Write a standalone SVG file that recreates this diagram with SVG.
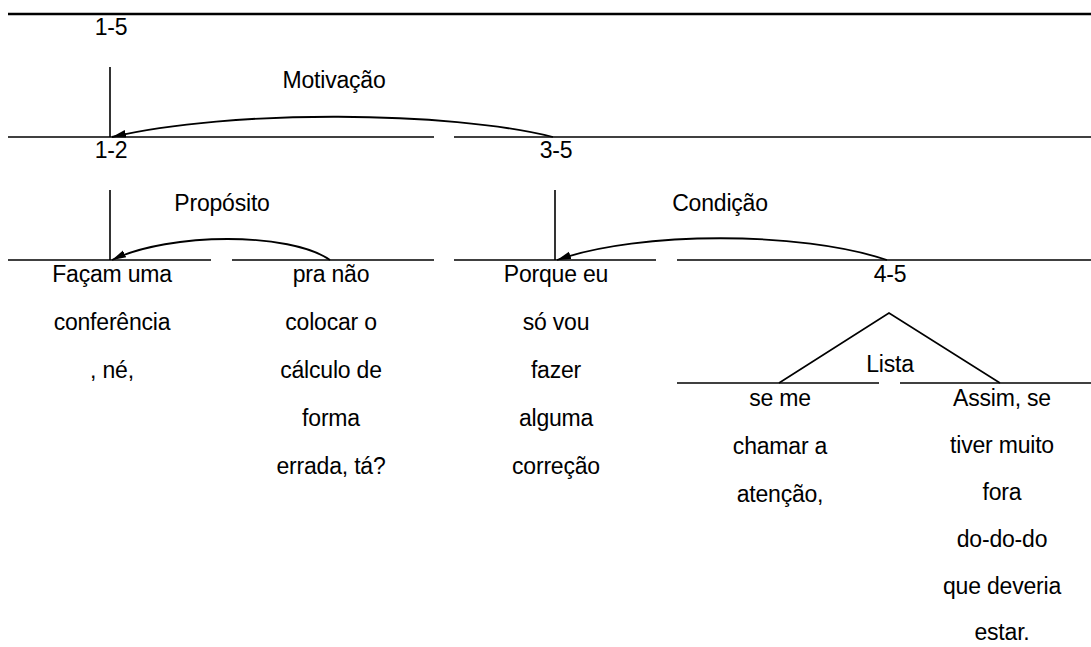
<svg xmlns="http://www.w3.org/2000/svg" width="1091" height="647" viewBox="0 0 1091 647">
  <style>
    .t { font-family: "Liberation Sans", Arial, sans-serif; font-size: 23px; fill: #000; text-anchor: middle; letter-spacing: -0.2px; }
    .ln { stroke: #000; stroke-width: 1.6; fill: none; }
    .top { stroke: #000; stroke-width: 2.6; fill: none; }
    .arc { stroke: #000; stroke-width: 1.8; fill: none; marker-end: url(#ah); }
  </style>
  <defs>
    <marker id="ah" markerWidth="16" markerHeight="10" refX="14" refY="5" orient="auto" markerUnits="userSpaceOnUse">
      <path d="M0,1.2 L14,5 L0,8.8 Z" fill="#000"/>
    </marker>
  </defs>
  <rect width="1091" height="647" fill="#fff"/>

  <g id="node-1-5">
    <line class="top" x1="8" y1="14" x2="1091" y2="14"/>
    <text class="t" x="111" y="35">1-5</text>
  </g>

  <g id="node-1-2">
    <line class="ln" x1="8" y1="137" x2="434" y2="137"/>
    <text class="t" x="111" y="158">1-2</text>
  </g>

  <g id="node-3-5">
    <line class="ln" x1="454" y1="137" x2="1091" y2="137"/>
    <text class="t" x="556" y="158">3-5</text>
  </g>

  <g id="node-1">
    <line class="ln" x1="8" y1="260" x2="211" y2="260"/>
    <text class="t" x="112" y="282">Façam uma</text>
    <text class="t" x="112" y="330">conferência</text>
    <text class="t" x="112" y="378">, né,</text>
  </g>

  <g id="node-2">
    <line class="ln" x1="232" y1="260" x2="434" y2="260"/>
    <text class="t" x="331" y="282">pra não</text>
    <text class="t" x="331" y="330">colocar o</text>
    <text class="t" x="331" y="378">cálculo de</text>
    <text class="t" x="331" y="426">forma</text>
    <text class="t" x="331" y="474">errada, tá?</text>
  </g>

  <g id="node-3">
    <line class="ln" x1="454" y1="260" x2="656" y2="260"/>
    <text class="t" x="556" y="282">Porque eu</text>
    <text class="t" x="556" y="330">só vou</text>
    <text class="t" x="556" y="378">fazer</text>
    <text class="t" x="556" y="426">alguma</text>
    <text class="t" x="556" y="474">correção</text>
  </g>

  <g id="node-4-5">
    <line class="ln" x1="677" y1="260" x2="1091" y2="260"/>
    <text class="t" x="890" y="282">4-5</text>
  </g>

  <g id="node-4">
    <line class="ln" x1="677" y1="383" x2="879" y2="383"/>
    <text class="t" x="780" y="406">se me</text>
    <text class="t" x="780" y="454">chamar a</text>
    <text class="t" x="780" y="502">atenção,</text>
  </g>

  <g id="node-5">
    <line class="ln" x1="900" y1="383" x2="1091" y2="383"/>
    <text class="t" x="1002" y="406">Assim, se</text>
    <text class="t" x="1002" y="453">tiver muito</text>
    <text class="t" x="1002" y="500">fora</text>
    <text class="t" x="1002" y="547">do-do-do</text>
    <text class="t" x="1002" y="594">que deveria</text>
    <text class="t" x="1002" y="640">estar.</text>
  </g>

  <g id="connectors">
    <line class="ln" x1="110" y1="67" x2="110" y2="137"/>
    <path class="arc" d="M553,137 C450,111 230,109 112,137"/>
    <text class="t" x="334" y="88">Motivação</text>

    <line class="ln" x1="110" y1="190" x2="110" y2="260"/>
    <path class="arc" d="M330,260 C290,232 170,232 112,260"/>
    <text class="t" x="222" y="211">Propósito</text>

    <line class="ln" x1="555" y1="190" x2="555" y2="260"/>
    <path class="arc" d="M887,260 C800,231 640,231 557,260"/>
    <text class="t" x="720" y="211">Condição</text>

    <polyline class="ln" points="779,383 889,313 1000,383"/>
    <text class="t" x="890" y="372">Lista</text>
  </g>
</svg>
